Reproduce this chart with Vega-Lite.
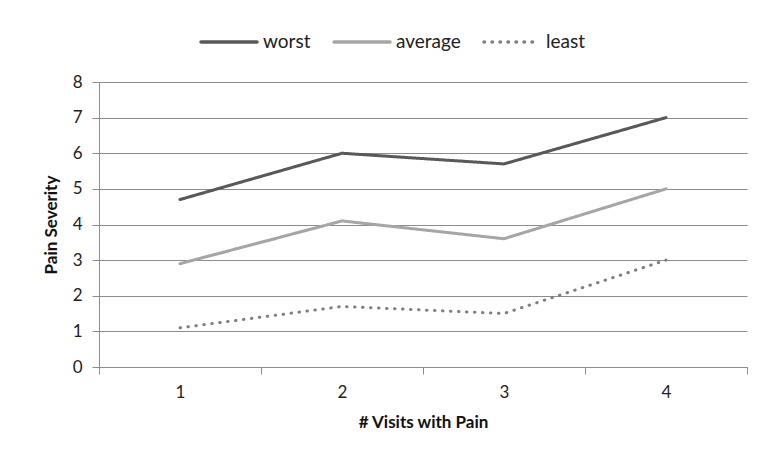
{
  "$schema": "https://vega.github.io/schema/vega-lite/v6.json",
  "width": 648,
  "height": 285,
  "autosize": {"type": "none"},
  "padding": {"left": 99, "top": 82, "right": 13, "bottom": 97},
  "background": "white",
  "data": {
    "values": [
      {"visits": "1", "series": "worst", "severity": 4.7},
      {"visits": "2", "series": "worst", "severity": 6.0},
      {"visits": "3", "series": "worst", "severity": 5.7},
      {"visits": "4", "series": "worst", "severity": 7.0},
      {"visits": "1", "series": "average", "severity": 2.9},
      {"visits": "2", "series": "average", "severity": 4.1},
      {"visits": "3", "series": "average", "severity": 3.6},
      {"visits": "4", "series": "average", "severity": 5.0},
      {"visits": "1", "series": "least", "severity": 1.1},
      {"visits": "2", "series": "least", "severity": 1.7},
      {"visits": "3", "series": "least", "severity": 1.5},
      {"visits": "4", "series": "least", "severity": 3.0}
    ]
  },
  "mark": {"type": "line", "strokeWidth": 3, "strokeCap": "round"},
  "encoding": {
    "x": {
      "field": "visits",
      "type": "ordinal",
      "title": "# Visits with Pain",
      "scale": {"type": "band", "paddingInner": 0, "paddingOuter": 0},
      "axis": {
        "tickBand": "extent",
        "labelAngle": 0,
        "labelFontSize": 17,
        "labelColor": "#222222",
        "labelPadding": 10,
        "tickSize": 7,
        "tickColor": "#8c8c8c",
        "domainColor": "#8c8c8c",
        "titleFontSize": 17,
        "titleFontWeight": "bold",
        "titleColor": "#111111",
        "titlePadding": 14
      }
    },
    "y": {
      "field": "severity",
      "type": "quantitative",
      "title": "Pain Severity",
      "scale": {"domain": [0, 8], "nice": false},
      "axis": {
        "values": [0, 1, 2, 3, 4, 5, 6, 7, 8],
        "labelFontSize": 17,
        "labelColor": "#222222",
        "labelPadding": 10,
        "tickSize": 7,
        "tickColor": "#8c8c8c",
        "domainColor": "#8c8c8c",
        "gridColor": "#8c8c8c",
        "gridOpacity": 1,
        "titleFontSize": 17,
        "titleFontWeight": "bold",
        "titleColor": "#111111",
        "titlePadding": 12
      }
    },
    "color": {
      "field": "series",
      "type": "nominal",
      "sort": ["worst", "average", "least"],
      "scale": {"domain": ["worst", "average", "least"], "range": ["#595959", "#a6a6a6", "#7f7f7f"]},
      "legend": {
        "title": null,
        "orient": "none",
        "direction": "horizontal",
        "legendX": 100,
        "legendY": -70,
        "symbolType": "stroke",
        "symbolSize": 3136,
        "symbolStrokeWidth": 3.5,
        "labelFontSize": 19,
        "labelColor": "#222222",
        "labelOffset": 4,
        "columnPadding": 16,
        "encode": {"symbols": {"update": {"strokeCap": {"value": "round"}}}}
      }
    },
    "strokeDash": {
      "field": "series",
      "type": "nominal",
      "sort": ["worst", "average", "least"],
      "scale": {"domain": ["worst", "average", "least"], "range": [[1, 0], [1, 0], [0.5, 7.5]]},
      "legend": null
    }
  },
  "config": {
    "font": "Lato, 'Open Sans', sans-serif",
    "view": {"stroke": null},
    "axisX": {"grid": false}
  }
}
